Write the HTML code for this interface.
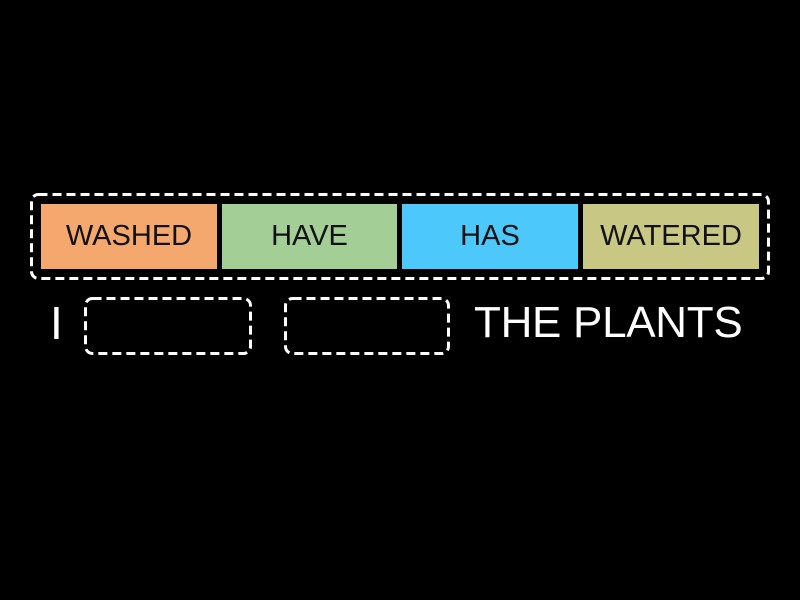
<!DOCTYPE html>
<html><head><style>
html,body{margin:0;padding:0;background:#000;width:800px;height:600px;overflow:hidden;font-family:"Liberation Sans",sans-serif}
.a{position:absolute;box-sizing:border-box}
.t{position:absolute;top:204px;height:65px;display:flex;align-items:center;justify-content:center;font-size:29px;color:#111}
svg{position:absolute;left:0;top:0}
</style></head><body>
<svg width="800" height="600"><g fill="none" stroke="#fff" stroke-width="3" stroke-dasharray="9 5">
<rect x="31.5" y="194.5" width="737" height="84" rx="7"/>
<rect x="85.5" y="298.5" width="165" height="55" rx="7"/>
<rect x="285.5" y="298.5" width="163" height="55" rx="7"/>
</g></svg>
<div class="t" style="left:41px;width:176px;background:#f5a86e">WASHED</div>
<div class="t" style="left:222px;width:175px;background:#a3cf97">HAVE</div>
<div class="t" style="left:402px;width:176px;background:#4cc8fb">HAS</div>
<div class="t" style="left:583px;width:176px;background:#c9c784">WATERED</div>
<div class="a" style="left:50px;top:298px;font-size:46px;color:#fff;line-height:50px">I</div>
<div class="a" style="left:474px;top:298px;font-size:44px;color:#fff;line-height:50px;white-space:nowrap;letter-spacing:-0.3px">THE PLANTS</div>
</body></html>
